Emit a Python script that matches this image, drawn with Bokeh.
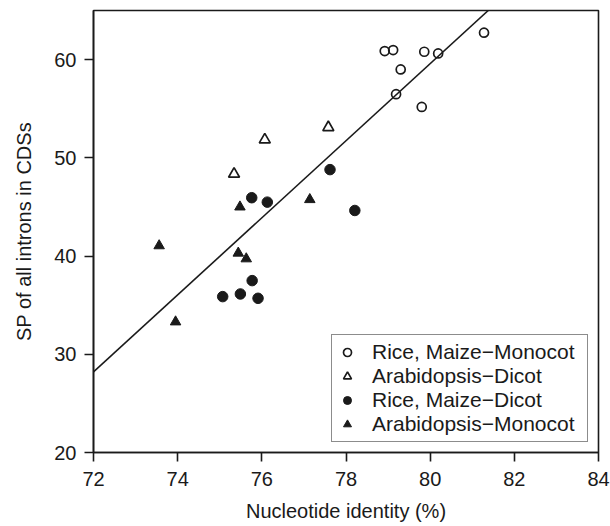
from bokeh.plotting import figure
from bokeh.models import Range1d, FixedTicker, Legend, LegendItem
from bokeh.embed import file_html
from bokeh.resources import INLINE

# ---- data ----
rm_mono_x = [78.92, 79.12, 79.86, 80.19, 81.28, 79.30, 79.19, 79.80]
rm_mono_y = [60.87, 60.97, 60.80, 60.63, 62.74, 59.00, 56.48, 55.18]

ara_dicot_x = [76.07, 77.58, 75.34]
ara_dicot_y = [51.85, 53.10, 48.35]

rm_dicot_x = [77.62, 75.76, 76.13, 78.21, 75.77, 75.07, 75.49, 75.91]
rm_dicot_y = [48.80, 45.94, 45.49, 44.64, 37.50, 35.87, 36.14, 35.70]

ara_mono_x = [75.48, 77.14, 73.56, 75.44, 75.63, 73.95]
ara_mono_y = [45.00, 45.75, 41.05, 40.30, 39.72, 33.30]

fit_x = [72.0, 81.38]
fit_y = [28.2, 65.0]

x_ticks = [72, 74, 76, 78, 80, 82, 84]
y_ticks = [20, 30, 40, 50, 60]

labels = ["Rice, Maize\u2212Monocot", "Arabidopsis\u2212Dicot",
          "Rice, Maize\u2212Dicot", "Arabidopsis\u2212Monocot"]

INK = "#1a1a1a"
FONT = "Liberation Sans"

p = figure(width=610, height=526, output_backend="svg", toolbar_location=None,
           x_range=Range1d(72, 84), y_range=Range1d(20, 65),
           min_border_left=93, min_border_right=12, min_border_top=10,
           min_border_bottom=74)

p.xgrid.visible = False
p.ygrid.visible = False
p.outline_line_color = INK
p.outline_line_width = 1.6
p.background_fill_color = "white"
p.border_fill_color = "white"

for ax in (p.xaxis[0], p.yaxis[0]):
    ax.axis_line_color = INK
    ax.axis_line_width = 1.6
    ax.major_tick_line_color = INK
    ax.major_tick_line_width = 1.6
    ax.major_tick_in = 0
    ax.major_tick_out = 9
    ax.minor_tick_line_color = None
    ax.major_label_text_font = FONT
    ax.major_label_text_font_size = "20px"
    ax.major_label_text_color = INK
    ax.axis_label_text_font = FONT
    ax.axis_label_text_font_size = "20px"
    ax.axis_label_text_font_style = "normal"
    ax.axis_label_text_color = INK

p.xaxis.ticker = FixedTicker(ticks=x_ticks)
p.yaxis.ticker = FixedTicker(ticks=y_ticks)
p.xaxis.axis_label = "Nucleotide identity (%)"
p.yaxis.axis_label = "SP of all introns in CDSs"
p.xaxis.major_label_standoff = 10
p.xaxis.axis_label_standoff = 11
p.yaxis.major_label_standoff = 8
p.yaxis.axis_label_standoff = 16

# regression line
p.line(fit_x, fit_y, line_color=INK, line_width=1.6)

r1 = p.scatter(rm_mono_x, rm_mono_y, marker="circle", size=9,
               fill_alpha=0, line_color=INK, line_width=1.7)
r2 = p.scatter(ara_dicot_x, ara_dicot_y, marker="triangle", size=11,
               fill_alpha=0, line_color=INK, line_width=1.7)
r3 = p.scatter(rm_dicot_x, rm_dicot_y, marker="circle", size=10.5,
               fill_color=INK, line_color=INK, line_width=1)
r4 = p.scatter(ara_mono_x, ara_mono_y, marker="triangle", size=10.5,
               fill_color=INK, line_color=INK, line_width=1)

legend = Legend(items=[LegendItem(label=labels[0], renderers=[r1]),
                       LegendItem(label=labels[1], renderers=[r2]),
                       LegendItem(label=labels[2], renderers=[r3]),
                       LegendItem(label=labels[3], renderers=[r4])],
                location="bottom_right", margin=10, padding=5, spacing=0,
                glyph_width=20, glyph_height=20, label_standoff=15,
                label_width=210,
                label_text_font=FONT, label_text_font_size="21px",
                label_text_color=INK, label_height=20,
                border_line_color=INK, border_line_width=1.6,
                background_fill_color="white", background_fill_alpha=1)
p.add_layout(legend)

open("out.html", "w").write(file_html(p, INLINE))
